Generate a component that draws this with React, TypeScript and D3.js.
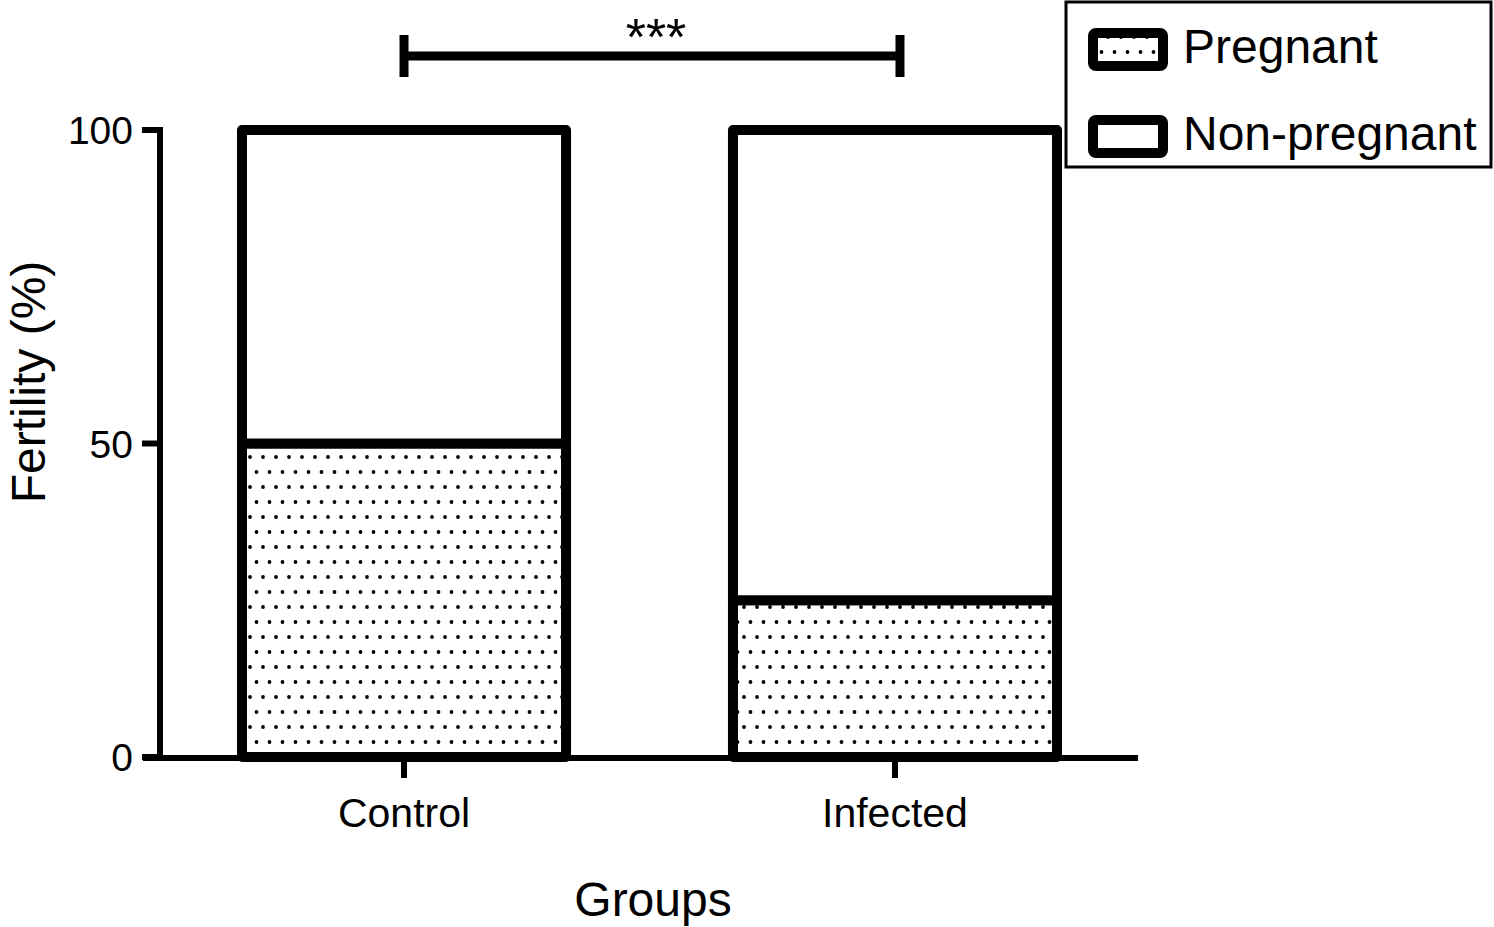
import React from "react";
import * as d3 from "d3";

const groups = ["Control", "Infected"];
const pregnant = [50, 25];
const nonPregnant = [50, 75];
const yTicks = [0, 50, 100];
const legendLabels = ["Pregnant", "Non-pregnant"];
const sigLabel = "***";

const W = 1494;
const H = 927;
const font = "'Liberation Sans', Arial, Helvetica, sans-serif";

export default function App() {
  const y = d3.scaleLinear().domain([0, 100]).range([757, 130]);
  const x = d3.scaleBand().domain(groups).range([160, 1139]).paddingInner(0.34).paddingOuter(0.167);
  const bw = x.bandwidth();
  const sw = 10;

  const stack = d3.stack<number>().keys(["p", "n"]).value((i, k) => (k === "p" ? pregnant[i] : nonPregnant[i]));
  const series = stack(groups.map((_, i) => i));

  const cx0 = x(groups[0])! + bw / 2;
  const cx1 = x(groups[1])! + bw / 2;

  return (
    <svg
      width={W}
      height={H}
      style={{ position: "absolute", left: 0, top: 0, display: "block", background: "#fff" }}
      fontFamily={font}
    >
      <defs>
        <pattern id="dots" patternUnits="userSpaceOnUse" width={13} height={30} x={0} y={0}>
          <rect width={13} height={30} fill="#fff" />
          <circle cx={3} cy={7} r={1.9} fill="#000" />
          <circle cx={9.5} cy={22} r={1.9} fill="#000" />
        </pattern>
      </defs>

      {/* bars */}
      {groups.map((g, i) => {
        const x0 = x(g)!;
        return (
          <g key={g}>
            {series.map((s) => {
              const [a, b] = s[i];
              return (
                <rect
                  key={s.key}
                  x={x0}
                  y={y(b)}
                  width={bw}
                  height={y(a) - y(b)}
                  fill={s.key === "p" ? "url(#dots)" : "#fff"}
                  stroke="#000"
                  strokeWidth={sw}
                  strokeLinejoin="round"
                />
              );
            })}
          </g>
        );
      })}

      {/* y axis */}
      <line x1={160} x2={160} y1={y(100) - 3} y2={y(0) + 3} stroke="#000" strokeWidth={6} />
      {yTicks.map((t) => (
        <g key={t}>
          <line x1={142} x2={163} y1={y(t)} y2={y(t)} stroke="#000" strokeWidth={6} />
          <text x={133} y={y(t)} dy="0.36em" textAnchor="end" fontSize={39}>
            {t}
          </text>
        </g>
      ))}

      {/* x axis */}
      <line x1={143} x2={1138} y1={y(0) + 1} y2={y(0) + 1} stroke="#000" strokeWidth={6} />
      {groups.map((g) => {
        const cx = x(g)! + bw / 2;
        return (
          <g key={g}>
            <line x1={cx} x2={cx} y1={y(0)} y2={778} stroke="#000" strokeWidth={6} />
            <text x={cx} y={827} textAnchor="middle" fontSize={41}>
              {g}
            </text>
          </g>
        );
      })}

      <text x={653} y={916} textAnchor="middle" fontSize={48}>
        Groups
      </text>
      <text transform="translate(45,382) rotate(-90)" textAnchor="middle" fontSize={48}>
        Fertility (%)
      </text>

      {/* significance */}
      <g stroke="#000" strokeWidth={9}>
        <line x1={cx0} x2={cx1 + 5} y1={56} y2={56} />
        <line x1={cx0} x2={cx0} y1={35} y2={77} />
        <line x1={cx1 + 5} x2={cx1 + 5} y1={35} y2={77} />
      </g>
      <text x={656} y={55} textAnchor="middle" fontSize={52}>
        {sigLabel}
      </text>

      {/* legend */}
      <rect x={1066} y={2} width={425} height={165} fill="#fff" stroke="#000" strokeWidth={3} />
      {legendLabels.map((l, i) => {
        const yy = 33 + i * 87;
        return (
          <g key={l}>
            <rect
              x={1093}
              y={yy}
              width={70}
              height={33}
              rx={3}
              fill={i === 0 ? "url(#dots)" : "#fff"}
              stroke="#000"
              strokeWidth={10}
            />
            <text x={1183} y={yy + 30} fontSize={48}>
              {l}
            </text>
          </g>
        );
      })}
    </svg>
  );
}
